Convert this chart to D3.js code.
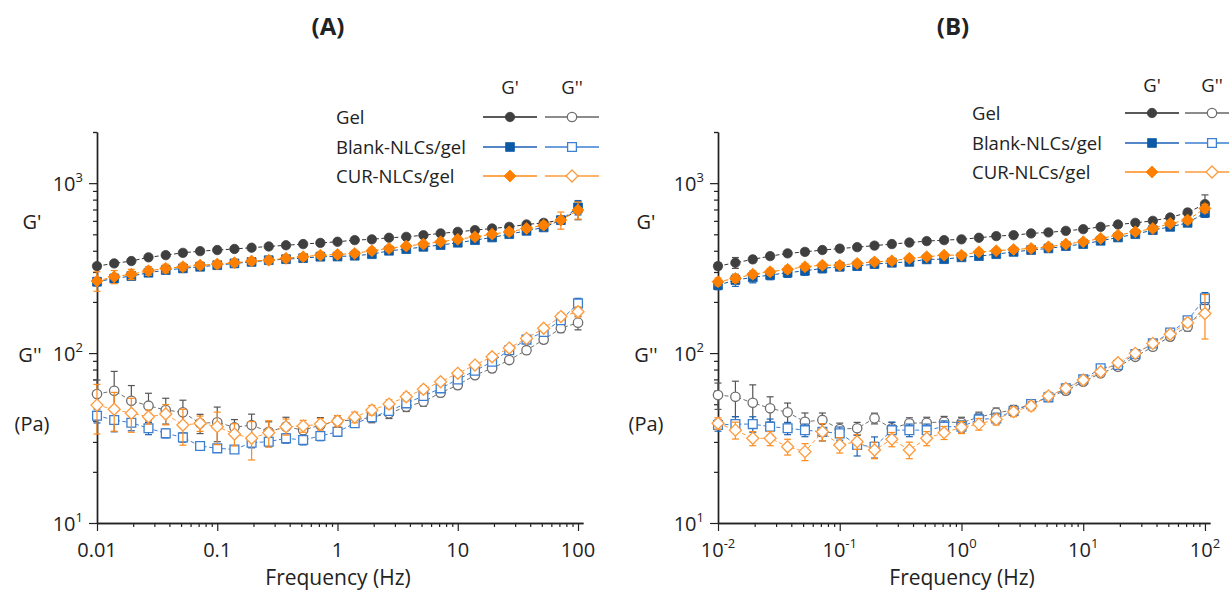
<!DOCTYPE html>
<html><head><meta charset="utf-8">
<script src="https://cdn.jsdelivr.net/npm/d3@7"></script>
<style>
body{margin:0;background:#fff}
svg{display:block}
text{font-family:"Open Sans","Noto Sans",sans-serif;fill:#222}
</style>
</head><body>
<svg id="c" width="1229" height="591"></svg>
<script>
// ---------- data ----------
const freq = [0.01,0.0139,0.0193,0.0268,0.0373,0.0518,0.0720,0.1,0.139,0.193,0.268,0.373,0.518,0.720,1,1.39,1.93,2.68,3.73,5.18,7.20,10,13.9,19.3,26.8,37.3,51.8,72.0,100];
const xMajorA = [0.01,0.1,1,10,100];
const xLabelsA = ["0.01","0.1","1","10","100"];
const xLabelsB = [["10","-2"],["10","-1"],["10","0"],["10","1"],["10","2"]];
const yMajor = [10,100,1000];
const yLabelsSup = ["1","2","3"];
const seriesNames = ["Gel","Blank-NLCs/gel","CUR-NLCs/gel"];

const A_gel_G1   = [325,337,348,366,377,389,398,404,410,417,424,431,438,445,452,462,467,477,483,494,506,517,529,541,553,571,584,606,694];
const A_blank_G1 = [263,275,284,297,308,315,322,329,337,344,352,357,362,369,370,374,382,400,409,422,432,446,462,479,501,524,549,606,720];
const A_cur_G1   = [266,281,291,305,315,322,329,334,340,348,352,361,369,377,380,386,400,413,426,438,452,467,483,501,517,541,566,606,694];
const A_gel_G2   = [57.4,60.0,52.4,49.0,46.2,44.8,38.6,39.1,36.6,37.7,34.4,36.9,35.2,37.7,39.8,40.4,41.9,44.2,48.3,51.7,58.4,64.8,74.2,81.3,91.0,104,120,140,151];
const A_blank_G2 = [42.8,40.4,38.9,36.1,33.7,31.9,28.4,27.5,27.1,29.7,30.1,31.5,30.8,32.5,34.4,38.6,41.9,45.6,50.6,55.9,62.0,70.0,78.7,88.9,104,120,133,156,196];
const A_cur_G2   = [49.4,46.7,44.2,42.2,43.8,37.7,38.6,36.9,33.4,31.5,34.0,36.9,37.2,38.2,39.8,41.9,46.2,50.1,55.3,61.2,67.8,76.0,85.0,95.1,107,122,140,164,175];

const A_gel_G1_sd   = [12,12,12,12,12,12,12,12,12,12,14,14,14,14,15,15,15,16,16,18,18,18,20,20,22,22,25,30,85];
const A_blank_G1_sd = [14,15,14,14,14,14,14,14,14,14,14,14,14,14,14,14,15,15,15,16,16,16,18,18,20,20,22,25,70];
const A_cur_G1_sd   = [35,25,20,18,18,16,16,16,16,16,16,16,16,16,16,16,16,16,16,16,18,18,18,20,20,22,25,70,80];
const A_gel_G2_sd   = [12,18,12,9,8,8,5,9,4,6,5,5,3,4,3,3,3,3,3,3,3,3,3,4,4,5,6,8,14];
const A_blank_G2_sd = [4,6,4,3,2,2,1,1,1,2,2,2,2,2,2,2,2,2,2,2,2,2,3,3,4,4,5,6,14];
const A_cur_G2_sd   = [16,12,10,4,6,9,4,8,5,8,6,4,3,3,3,3,3,3,3,3,3,3,3,4,4,5,6,8,12];

const B_gel_G1   = [325,340,356,372,386,394,404,412,420,429,438,447,456,462,467,477,488,494,506,513,524,536,553,571,584,600,628,672,753];
const B_blank_G1 = [251,269,279,288,297,305,315,322,325,334,340,344,356,357,366,372,382,394,404,413,426,438,458,479,501,529,553,584,669];
const B_cur_G1   = [263,275,291,301,311,322,329,329,337,344,349,361,369,377,377,394,400,407,413,422,438,452,473,494,517,541,579,606,710];
const B_gel_G2   = [56.6,55.3,51.0,47.3,44.8,39.4,40.4,35.7,36.1,41.3,36.1,38.6,38.9,39.4,38.9,41.9,44.5,46.2,50.1,55.3,60.0,67.8,76.0,83.1,95.1,109,125,143,187];
const B_blank_G2 = [37.7,38.2,38.2,36.9,36.1,35.2,34.4,33.7,28.8,28.1,35.2,35.2,35.2,36.9,36.9,40.7,41.3,45.7,50.1,54.9,62.0,70.0,81.3,85.0,98.6,114,132,156,210];
const B_cur_G2   = [38.6,35.2,31.5,31.5,28.1,26.3,34.4,28.8,30.1,26.9,31.1,26.9,31.5,34.0,36.6,38.2,40.7,45.2,48.8,55.9,62.0,69.4,77.6,87.7,99.6,114,129,151,171];

const B_gel_G1_sd   = [15,25,15,15,15,15,15,15,15,15,15,15,15,15,15,15,15,15,15,15,16,16,16,18,18,20,22,30,100];
const B_blank_G1_sd = [15,22,20,18,18,18,18,16,16,16,16,16,16,16,16,16,16,16,16,16,18,18,18,20,20,22,22,25,40];
const B_cur_G1_sd   = [14,14,14,14,14,14,14,14,14,14,14,14,14,14,14,14,14,14,14,14,14,16,16,18,18,20,20,25,40];
const B_gel_G2_sd   = [10,13,14,8,6,5,4,3,3,3,3,3,3,3,3,3,3,3,3,3,3,3,3,4,4,5,6,8,14];
const B_blank_G2_sd = [3,4,4,4,3,3,4,3,4,4,4,3,3,3,3,3,3,3,3,3,3,3,3,4,4,5,6,8,17];
const B_cur_G2_sd   = [3,4,3,3,3,3,4,3,3,3,3,3,3,3,3,3,3,3,3,3,3,3,3,4,4,5,6,8,50];

// ---------- styles ----------
const styles = [
  {fill1:"#3f3f3f", line1:"#333333", stroke2:"#6e6e6e", line2:"#707070", err:"#555555", shape:"circle", leg1:"#222", leg2:"#666"},
  {fill1:"#0c5aa6", line1:"#0c5aa6", stroke2:"#3d7fd0", line2:"#3d7fd0", err:"#1f62b0", shape:"square", leg1:"#1a5fb4", leg2:"#3d7fd0"},
  {fill1:"#ff8000", line1:"#ff8000", stroke2:"#ff9b3d", line2:"#ff9b3d", err:"#ff8a1a", shape:"diamond", leg1:"#ff8a1a", leg2:"#ff9b3d"}
];

function shapePath(shape){
  if(shape==="circle") return d3.symbol(d3.symbolCircle, Math.PI*4.7*4.7)();
  if(shape==="square") return "M-4.4,-4.4H4.4V4.4H-4.4Z";
  return "M0,-6L6,0L0,6L-6,0Z";
}

const svg = d3.select("#c");

const panels = [
  {title:"(A)", titleX:328, left:97, right:583, labelsB:false,
   G1:[A_gel_G1,A_blank_G1,A_cur_G1], G2:[A_gel_G2,A_blank_G2,A_cur_G2],
   G1sd:[A_gel_G1_sd,A_blank_G1_sd,A_cur_G1_sd], G2sd:[A_gel_G2_sd,A_blank_G2_sd,A_cur_G2_sd],
   yl:{g1x:32,g2x:30,pax:32},
   leg:{lx:336, rows:[117,147,176], hy:87, m1:510, m2:572, half:27}},
  {title:"(B)", titleX:953, left:718, right:1210, labelsB:true,
   G1:[B_gel_G1,B_blank_G1,B_cur_G1], G2:[B_gel_G2,B_blank_G2,B_cur_G2],
   G1sd:[B_gel_G1_sd,B_blank_G1_sd,B_cur_G1_sd], G2sd:[B_gel_G2_sd,B_blank_G2_sd,B_cur_G2_sd],
   yl:{g1x:646,g2x:646,pax:646},
   leg:{lx:972, rows:[113,143,172], hy:85, m1:1152, m2:1212, half:27}}
];

const yTop = 132, yBot = 523;
const minorY = [];
[10,100,1000].forEach(d=>{for(let m=2;m<=9;m++){ if(d*m<=2000) minorY.push(d*m);} });
minorY.push(2000);
const minorX = [];
[0.01,0.1,1,10].forEach(d=>{for(let m=2;m<=9;m++) minorX.push(+(d*m).toPrecision(3));});

panels.forEach(p=>{
  const x = d3.scaleLog().domain([0.01,110]).range([p.left,p.right]);
  const y = d3.scaleLog().domain([10,2000]).range([yBot,yTop]);
  const g = svg.append("g");

  // title
  g.append("text").attr("x",p.titleX).attr("y",35).attr("text-anchor","middle")
    .style("font-size","24px").style("font-weight","bold").text(p.title);

  // x axis
  const xaxMinor = d3.axisBottom(x).tickValues(minorX).tickSize(4).tickFormat("").tickSizeOuter(0);
  const xaxMajor = d3.axisBottom(x).tickValues(xMajorA).tickSize(8).tickFormat("").tickSizeOuter(0);
  const gx1 = g.append("g").attr("transform",`translate(0,${yBot})`).call(xaxMinor);
  const gx2 = g.append("g").attr("transform",`translate(0,${yBot})`).call(xaxMajor);
  [gx1,gx2].forEach(a=>{a.selectAll("line").attr("stroke","#222").attr("stroke-width",1.2);
     a.select(".domain").attr("stroke","#222").attr("stroke-width",1.4);});

  xMajorA.forEach((v,i)=>{
    const t = g.append("text").attr("x",x(v)).attr("y",557).attr("text-anchor","middle").style("font-size","20px");
    if(!p.labelsB){ t.text(xLabelsA[i]); }
    else { t.append("tspan").text(xLabelsB[i][0]);
           t.append("tspan").attr("dy",-9).style("font-size","13px").text(xLabelsB[i][1]); }
  });
  g.append("text").attr("x",(p.left+p.right)/2 - 2).attr("y",585).attr("text-anchor","middle")
    .style("font-size","21px").text("Frequency (Hz)");

  // y axis
  const yaxMinor = d3.axisLeft(y).tickValues(minorY).tickSize(4).tickFormat("").tickSizeOuter(0);
  const yaxMajor = d3.axisLeft(y).tickValues(yMajor).tickSize(8).tickFormat("").tickSizeOuter(0);
  const gy1 = g.append("g").attr("transform",`translate(${p.left},0)`).call(yaxMinor);
  const gy2 = g.append("g").attr("transform",`translate(${p.left},0)`).call(yaxMajor);
  [gy1,gy2].forEach(a=>{a.selectAll("line").attr("stroke","#222").attr("stroke-width",1.2);
     a.select(".domain").attr("stroke","#222").attr("stroke-width",1.4);});
  yMajor.forEach((v,i)=>{
    const t = g.append("text").attr("x",p.left-14).attr("y",y(v)+8).attr("text-anchor","end").style("font-size","20px");
    t.append("tspan").text("10");
    t.append("tspan").attr("dy",-9).style("font-size","13px").text(yLabelsSup[i]);
  });
  g.append("text").attr("x",p.yl.g1x).attr("y",229).attr("text-anchor","middle").style("font-size","20px").text("G'");
  g.append("text").attr("x",p.yl.g2x).attr("y",362).attr("text-anchor","middle").style("font-size","20px").text("G''");
  g.append("text").attr("x",p.yl.pax).attr("y",431).attr("text-anchor","middle").style("font-size","20px").text("(Pa)");

  // data
  const line = d3.line().x((d,i)=>x(freq[i])).y(d=>y(d));
  function drawSeries(vals, sd, st, filled){
    const col = filled ? st.line1 : st.line2;
    g.append("path").attr("d",line(vals)).attr("fill","none").attr("stroke",col)
      .attr("stroke-width",1).attr("stroke-dasharray","4,2.5");
    const eg = g.append("g").attr("stroke",st.err).attr("stroke-width",1.2);
    vals.forEach((v,i)=>{
      const cx = x(freq[i]), y1 = y(v+sd[i]), y2 = y(Math.max(v-sd[i], 10.5));
      eg.append("line").attr("x1",cx).attr("x2",cx).attr("y1",y1).attr("y2",y2);
      eg.append("line").attr("x1",cx-3.5).attr("x2",cx+3.5).attr("y1",y1).attr("y2",y1);
      eg.append("line").attr("x1",cx-3.5).attr("x2",cx+3.5).attr("y1",y2).attr("y2",y2);
    });
    g.append("g").selectAll("path").data(vals).join("path")
      .attr("d",shapePath(st.shape))
      .attr("transform",(d,i)=>`translate(${x(freq[i])},${y(d)})`)
      .attr("fill", filled ? st.fill1 : "#fff")
      .attr("stroke", filled ? st.fill1 : st.stroke2)
      .attr("stroke-width", filled ? 0.8 : 1.3);
  }
  [0,1,2].forEach(s=>drawSeries(p.G2[s], p.G2sd[s], styles[s], false));
  [0,1,2].forEach(s=>drawSeries(p.G1[s], p.G1sd[s], styles[s], true));

  // legend
  const L = p.leg;
  g.append("text").attr("x",L.m1).attr("y",L.hy+7).attr("text-anchor","middle").style("font-size","18.5px").text("G'");
  g.append("text").attr("x",L.m2).attr("y",L.hy+7).attr("text-anchor","middle").style("font-size","18.5px").text("G''");
  seriesNames.forEach((nm,s)=>{
    const ry = L.rows[s], st = styles[s];
    g.append("text").attr("x",L.lx).attr("y",ry+7).style("font-size","18.5px").text(nm);
    g.append("line").attr("x1",L.m1-L.half).attr("x2",L.m1+L.half).attr("y1",ry).attr("y2",ry)
      .attr("stroke",st.leg1).attr("stroke-width",1.3);
    g.append("path").attr("d",shapePath(st.shape)).attr("transform",`translate(${L.m1},${ry})`)
      .attr("fill",st.fill1).attr("stroke",st.fill1).attr("stroke-width",0.8);
    g.append("line").attr("x1",L.m2-L.half).attr("x2",L.m2+L.half).attr("y1",ry).attr("y2",ry)
      .attr("stroke",st.leg2).attr("stroke-width",1.3);
    g.append("path").attr("d",shapePath(st.shape)).attr("transform",`translate(${L.m2},${ry})`)
      .attr("fill","#fff").attr("stroke",st.stroke2).attr("stroke-width",1.3);
  });
});
</script>
</body></html>
